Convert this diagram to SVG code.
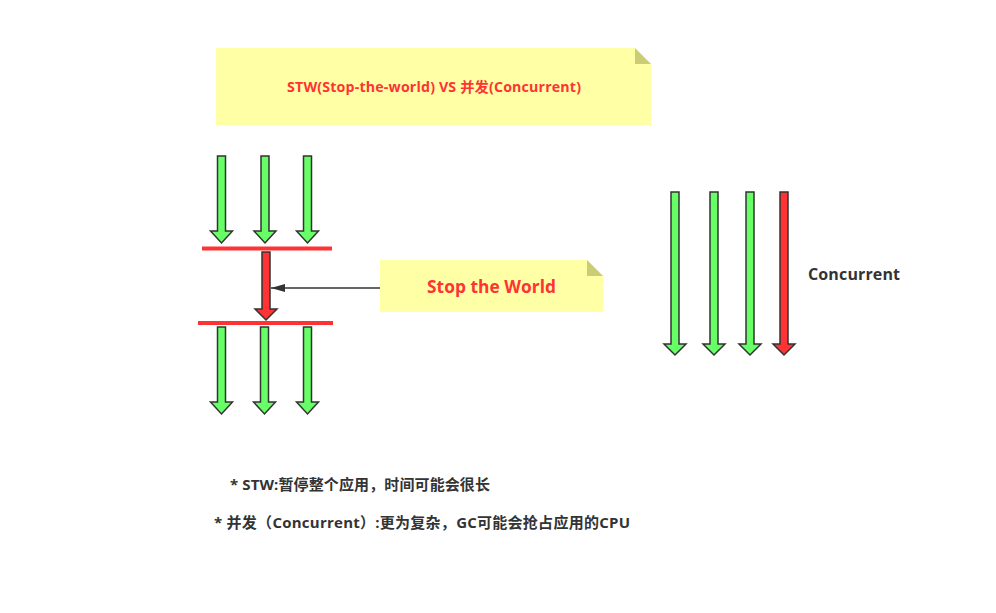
<svg xmlns="http://www.w3.org/2000/svg" width="996" height="613" viewBox="0 0 996 613">
<style>
.note{fill:#ffffa5;}
.fold{fill:#cccc77;}
.g{fill:#66ff66;stroke:#333333;stroke-width:1.5;stroke-linejoin:miter;}
.r{fill:#ff3333;stroke:#333333;stroke-width:1.5;stroke-linejoin:miter;}
.bar{stroke:#ff3333;stroke-width:4;}
.t{font-family:"Open Sans","Noto Sans CJK SC",sans-serif;font-weight:bold;}
</style>
<defs>
<marker id="ah" viewBox="0 0 14 8" refX="14" refY="4" markerWidth="14" markerHeight="8" markerUnits="userSpaceOnUse" orient="auto">
<path d="M0,0 L14,4 L0,8 Z" fill="#333333"/>
</marker>
</defs>
<rect width="996" height="613" fill="#ffffff"/>
<g id="title">
<path class="note" d="M216,48 H635 L651,64 V125 H216 Z"/>
<path class="fold" d="M635,48 L651,64 H635 Z"/>
<text class="t" x="287" y="92" font-size="14.2" fill="#ff3333" textLength="294">STW(Stop-the-world) VS 并发(Concurrent)</text>
</g>
<g id="stw-top">
<path class="g" d="M217.5,156 H225.5 V231 H232.5 L221.5,243 L210.5,231 H217.5 Z"/>
<path class="g" d="M261,156 H269 V231 H276 L265,243 L254,231 H261 Z"/>
<path class="g" d="M303.5,156 H311.5 V231 H318.5 L307.5,243 L296.5,231 H303.5 Z"/>
</g>
<g id="bar1"><line class="bar" x1="202" y1="248.5" x2="332" y2="248.5"/></g>
<g id="stw-gc">
<path class="r" d="M262,252 H270 V309 H277 L266,320 L255,309 H262 Z"/>
</g>
<g id="bar2"><line class="bar" x1="198" y1="323" x2="333" y2="323"/></g>
<g id="stw-bottom">
<path class="g" d="M217.5,327 H225.5 V402 H232.5 L221.5,414 L210.5,402 H217.5 Z"/>
<path class="g" d="M260.5,327 H268.5 V402 H275.5 L264.5,414 L253.5,402 H260.5 Z"/>
<path class="g" d="M303.5,327 H311.5 V402 H318.5 L307.5,414 L296.5,402 H303.5 Z"/>
</g>
<g id="stw-note">
<path class="note" d="M380,260 H587 L603,276 V312 H380 Z"/>
<path class="fold" d="M587,260 L603,276 H587 Z"/>
<text class="t" x="427" y="293" font-size="17.3" fill="#ff3333" textLength="129">Stop the World</text>
</g>
<g id="connectors">
<line x1="380" y1="288" x2="271" y2="288" stroke="#333333" stroke-width="1.5" marker-end="url(#ah)"/>
</g>
<g id="concurrent">
<path class="g" d="M671,192 H679 V344 H686 L675,355 L664,344 H671 Z"/>
<path class="g" d="M710,192 H718 V344 H725 L714,355 L703,344 H710 Z"/>
<path class="g" d="M746,192 H754 V344 H761 L750,355 L739,344 H746 Z"/>
<path class="r" d="M780,192 H788 V344 H795 L784,355 L773,344 H780 Z"/>
<text class="t" x="808" y="280" font-size="16" fill="#333333" textLength="92">Concurrent</text>
</g>
<g id="notes">
<text class="t" x="230" y="490" font-size="15" fill="#333333" textLength="260">* STW:暂停整个应用，时间可能会很长</text>
<text class="t" x="214" y="528" font-size="15" fill="#333333" textLength="416">* 并发（Concurrent）:更为复杂，GC可能会抢占应用的CPU</text>
</g>
</svg>
